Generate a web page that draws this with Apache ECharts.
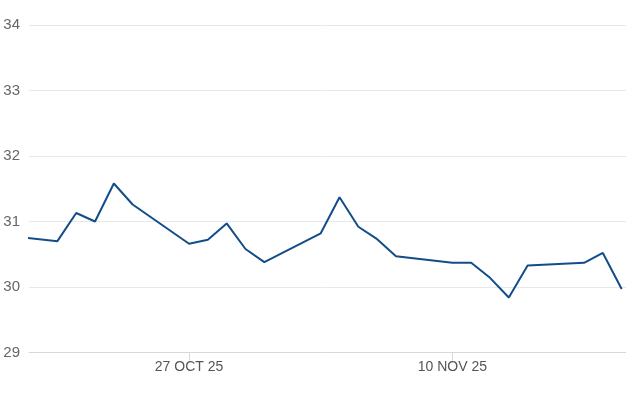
<!DOCTYPE html>
<html>
<head>
<meta charset="utf-8">
<script src="https://cdn.jsdelivr.net/npm/echarts@6/dist/echarts.min.js"></script>
<style>
html,body{margin:0;padding:0;background:#fff;}
#chart{width:626px;height:417px;}
</style>
</head>
<body>
<div id="chart"></div>
<script>
// Dates (trading days) and closing values
const dates = [
  '2025-10-17','2025-10-20','2025-10-21','2025-10-22','2025-10-23','2025-10-24',
  '2025-10-27','2025-10-28','2025-10-29','2025-10-30','2025-10-31',
  '2025-11-03','2025-11-04','2025-11-05','2025-11-06','2025-11-07',
  '2025-11-10','2025-11-11','2025-11-12','2025-11-13','2025-11-14',
  '2025-11-17','2025-11-18','2025-11-19'
];
const values = [
  30.79, 30.70, 31.13, 31.00, 31.58, 31.26,
  30.66, 30.72, 30.97, 30.58, 30.38,
  30.82, 31.37, 30.92, 30.73, 30.47,
  30.37, 30.37, 30.14, 29.84, 30.33,
  30.37, 30.52, 29.97
];
const xTickDates = ['2025-10-27','2025-11-10'];
const yTicks = [29, 30, 31, 32, 33, 34];
const months = ['JAN','FEB','MAR','APR','MAY','JUN','JUL','AUG','SEP','OCT','NOV','DEC'];

function toTs(s){ const p = s.split('-').map(Number); return Date.UTC(p[0], p[1]-1, p[2]); }
const DAY = 86400000;
const seriesData = dates.map((d,i)=>[toTs(d), values[i]]);
const xMin = toTs('2025-10-18') + 0.49*DAY;
const xMax = toTs('2025-11-19') + 0.23*DAY;

const chart = echarts.init(document.getElementById('chart'));
chart.setOption({
  animation: false,
  grid: { left: 29, right: 0, top: 25, bottom: 64.5 },
  xAxis: {
    type: 'value',
    min: xMin, max: xMax,
    axisLine: { show: true, lineStyle: { color: '#d3d9df', width: 1 } },
    axisTick: { show: true, customValues: xTickDates.map(toTs), length: 8, lineStyle: { color: '#d3d9df' } },
    axisLabel: {
      customValues: xTickDates.map(toTs),
      color: '#555', fontSize: 14, fontFamily: 'Liberation Sans, Arial, sans-serif', margin: 8,
      formatter: function(v){ const d = new Date(v); return d.getUTCDate() + ' ' + months[d.getUTCMonth()] + ' ' + String(d.getUTCFullYear()).slice(2); }
    },
    splitLine: { show: false }
  },
  yAxis: {
    type: 'value',
    min: yTicks[0], max: yTicks[yTicks.length-1], interval: 1,
    axisLine: { show: false }, axisTick: { show: false },
    axisLabel: { color: '#666', fontSize: 15, fontFamily: 'Liberation Sans, Arial, sans-serif', margin: 9 },
    splitLine: { lineStyle: { color: '#e6e8eb', width: 1 } }
  },
  series: [{
    type: 'line',
    data: seriesData,
    showSymbol: false,
    clip: true,
    lineStyle: { color: '#124d8a', width: 2 },
    itemStyle: { color: '#124d8a' }
  }]
});
</script>
</body>
</html>
